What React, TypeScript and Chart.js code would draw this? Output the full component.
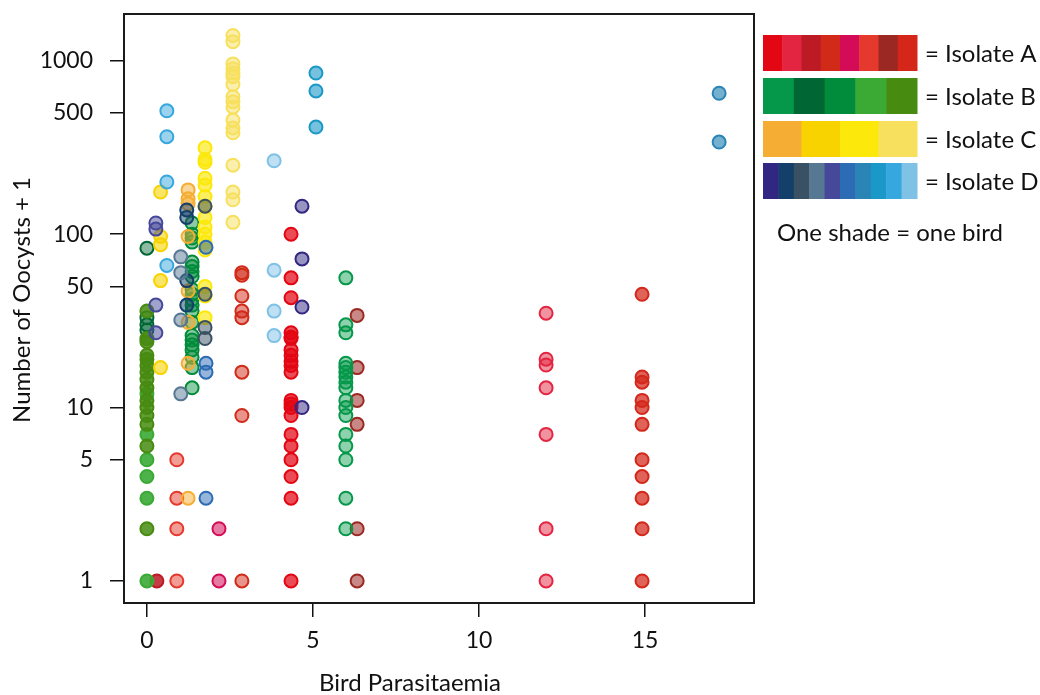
import React, { useEffect, useRef } from 'react';
import { Chart, registerables } from 'chart.js';

Chart.register(...registerables);

// ---------- legend shades (one shade = one bird) ----------
const isolateAShades = ['#e30613', '#e42541', '#bc1a24', '#d22a18', '#d40c57', '#e6392e', '#9b2823', '#d4271a'];
const isolateBShades = ['#05984a', '#006633', '#008c3a', '#3aaa35', '#478b10'];
const isolateCShades = ['#f6ad33', '#f9d300', '#fce80a', '#f7e05e'];
const isolateDShades = ['#312782', '#143f6a', '#3a5163', '#567893', '#46489a', '#2c6cb5', '#2a85b6', '#1a98c8', '#37a8df', '#7fc2e6'];
const legendLabels = ['= Isolate A', '= Isolate B', '= Isolate C', '= Isolate D'];
const legendNote = 'One shade = one bird';

// ---------- axes ----------
const xTicks = [0, 5, 10, 15];
const yTicks = [1, 5, 10, 50, 100, 500, 1000];
const xTitle = 'Bird Parasitaemia';
const yTitle = 'Number of Oocysts + 1';

// ---------- birds ----------
const birdIsolate = ['A', 'A', 'A', 'A', 'A', 'A', 'A', 'A', 'B', 'B', 'B', 'B', 'B', 'C', 'C', 'C', 'C', 'D', 'D', 'D', 'D', 'D', 'D', 'D', 'D', 'D', 'D'];
const birdShadeIndex = [0, 1, 2, 3, 4, 5, 6, 7, 0, 1, 2, 3, 4, 0, 1, 2, 3, 0, 1, 2, 3, 4, 5, 6, 7, 8, 9];
const birdParasitaemia = [4.34, 12.02, 0.3, 2.86, 2.17, 0.9, 6.33, 14.91, 5.99, 0, 1.36, 0, 0, 1.24, 0.41, 1.75, 2.59, 4.67, 1.2, 1.75, 1.02, 0.27, 1.78, 17.23, 5.09, 0.6, 3.83];
const birdOocystsPlusOne = [
  [100, 56, 43, 27, 25.5, 25, 21.5, 20, 18.5, 17.5, 16, 11, 10.5, 10, 9, 7, 6, 5, 4, 3, 1],
  [35, 19, 17.6, 13, 7, 2, 1],
  [1],
  [60, 58, 44, 36, 33, 16, 9, 1],
  [2, 1],
  [5, 3, 2, 1],
  [34, 17, 11, 8, 2, 1],
  [45, 15, 14, 11, 10, 8, 5, 4, 3, 2, 1],
  [56, 30, 27, 18, 17, 16, 15, 14, 13, 11, 10, 9, 7, 6, 5, 3, 2],
  [83, 33, 30, 28],
  [116, 100, 95, 90, 69, 65, 61, 57, 48, 45, 42, 39, 36, 31, 26, 24.5, 23, 21.5, 19.5, 17, 13],
  [12, 7, 5, 4, 3, 1],
  [36, 25, 24, 20, 19, 17.5, 16, 14.5, 13, 11, 10, 9, 8, 6, 2],
  [180, 160, 150, 97, 47, 31, 18, 3],
  [175, 97, 87, 54, 17],
  [315, 270, 260, 210, 192, 165, 145, 125, 110, 100, 90, 81, 50, 44, 33],
  [1400, 1290, 960, 900, 850, 810, 730, 620, 580, 540, 455, 410, 385, 250, 175, 158, 117],
  [145, 72, 38, 10],
  [138, 125, 54, 39],
  [145, 45, 29, 25],
  [74, 60, 32, 12],
  [116, 107, 39, 27],
  [84, 18, 16, 3],
  [650, 340],
  [850, 670, 415],
  [515, 365, 200, 66],
  [265, 62, 36, 26],
];
// fill opacity of each bird's markers (style)
const birdFillAlpha = [0.72, 0.5, 0.85, 0.5, 0.55, 0.5, 0.55, 0.72, 0.45, 0.45, 0.45, 0.9, 0.85, 0.5, 0.6, 0.65, 0.5, 0.5, 0.5, 0.5, 0.5, 0.5, 0.5, 0.65, 0.6, 0.5, 0.5];

const FONT = 'Lato, "Open Sans", sans-serif';

const shadeSets: Record<string, string[]> = { A: isolateAShades, B: isolateBShades, C: isolateCShades, D: isolateDShades };

function rgba(hex: string, a: number) {
  const n = parseInt(hex.slice(1), 16);
  return `rgba(${(n >> 16) & 255},${(n >> 8) & 255},${n & 255},${a})`;
}

const framePlugin = {
  id: 'frameAndLegend',
  afterDraw(chart: any) {
    const { ctx, chartArea } = chart;
    ctx.save();
    ctx.strokeStyle = '#1a1a1a';
    ctx.lineWidth = 2;
    ctx.strokeRect(chartArea.left, chartArea.top, chartArea.right - chartArea.left, chartArea.bottom - chartArea.top);

    // axis titles
    ctx.fillStyle = '#111';
    ctx.font = `24px ${FONT}`;
    ctx.textAlign = 'center';
    ctx.textBaseline = 'middle';
    ctx.fillText(xTitle, 410, 683);
    ctx.save();
    ctx.translate(22, 300);
    ctx.rotate(-Math.PI / 2);
    ctx.fillText(yTitle, 0, 0);
    ctx.restore();

    // legend
    const sets = [isolateAShades, isolateBShades, isolateCShades, isolateDShades];
    const rowTops = [35, 78, 121, 163];
    const barX = 763, barW = 154, barH = 36;
    sets.forEach((shades, r) => {
      const segW = barW / shades.length;
      shades.forEach((c, i) => {
        ctx.fillStyle = c;
        ctx.fillRect(barX + i * segW, rowTops[r], segW + 0.5, barH);
      });
      ctx.fillStyle = '#111';
      ctx.font = `24px ${FONT}`;
      ctx.textBaseline = 'middle';
      ctx.textAlign = 'left';
      ctx.fillText(legendLabels[r], 925, rowTops[r] + barH / 2 + 1);
    });
    ctx.font = `24px ${FONT}`;
    ctx.fillText(legendNote, 777, 233);
    ctx.restore();
  },
};

export default function App() {
  const ref = useRef<HTMLCanvasElement | null>(null);
  useEffect(() => {
    if (!ref.current) return;
    const n = birdIsolate.length;
    const datasets = birdIsolate.map((iso, i) => {
      const color = shadeSets[iso][birdShadeIndex[i]];
      return {
        label: `${iso}${birdShadeIndex[i] + 1}`,
        data: birdOocystsPlusOne[i].map((y) => ({ x: birdParasitaemia[i], y })),
        backgroundColor: rgba(color, birdFillAlpha[i]),
        borderColor: color,
        borderWidth: 2,
        pointRadius: 6.5,
        order: n - i,
      };
    });
    const chart = new Chart(ref.current, {
      type: 'scatter',
      data: { datasets },
      options: {
        animation: false,
        responsive: false,
        devicePixelRatio: 1,
        layout: { autoPadding: false, padding: { top: 14, right: 286, left: 0, bottom: 0 } },
        plugins: { legend: { display: false }, tooltip: { enabled: false } },
        scales: {
          x: {
            type: 'linear',
            bounds: 'data',
            min: -0.69,
            max: 18.28,
            afterBuildTicks: (s: any) => { s.ticks = xTicks.map((v) => ({ value: v })); },
            afterFit: (s: any) => { s.height = 92; s.paddingLeft = 0; s.paddingRight = 0; },
            ticks: { color: '#111', font: { family: FONT, size: 23 }, padding: 10, callback: (v: any) => String(v), maxRotation: 0, autoSkip: false },
            grid: { drawOnChartArea: false, drawTicks: true, tickLength: 14, color: '#111', lineWidth: 1.5 },
            border: { display: true, color: '#1a1a1a', width: 2 },
          },
          y: {
            type: 'logarithmic',
            bounds: 'data',
            min: 0.746,
            max: 1862,
            afterBuildTicks: (s: any) => { s.ticks = yTicks.map((v) => ({ value: v })); },
            afterFit: (s: any) => { s.width = 124; s.paddingTop = 0; s.paddingBottom = 0; },
            ticks: { color: '#111', font: { family: FONT, size: 23 }, padding: 17, callback: (v: any) => String(v), autoSkip: false },
            grid: { drawOnChartArea: false, drawTicks: true, tickLength: 14, color: '#111', lineWidth: 1.5 },
            border: { display: true, color: '#1a1a1a', width: 2 },
          },
        },
      },
      plugins: [framePlugin],
    } as any);
    return () => chart.destroy();
  }, []);
  return (
    <div style={{ position: 'absolute', left: 0, top: 0, width: 1040, height: 695, background: '#fff' }}>
      <canvas ref={ref} width={1040} height={695} style={{ display: 'block', width: 1040, height: 695 }} />
    </div>
  );
}
